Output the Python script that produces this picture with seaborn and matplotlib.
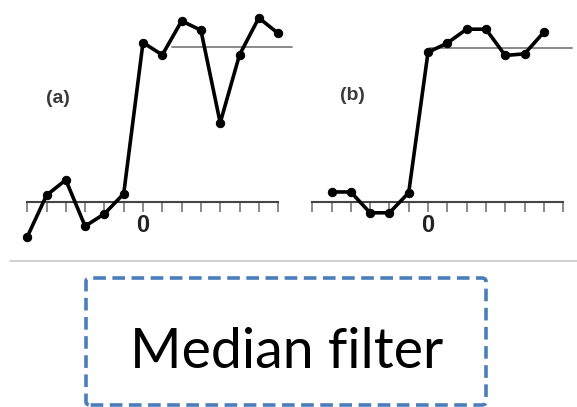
import numpy as np
import matplotlib
matplotlib.use("Agg")
import matplotlib.pyplot as plt
import seaborn as sns
from matplotlib.patches import FancyBboxPatch
from matplotlib.lines import Line2D

# raw signal (a) and median-filtered signal (b)
x_a = [-6, -5, -4, -3, -2, -1, 0, 1, 2, 3, 4, 5, 6, 7]
y_a = [-0.23, 0.04, 0.14, -0.16, -0.08, 0.05, 1.03, 0.95, 1.17, 1.11, 0.51, 0.95, 1.19, 1.09]

x_b = [-5, -4, -3, -2, -1, 0, 1, 2, 3, 4, 5, 6]
y_b = [0.065, 0.065, -0.07, -0.07, 0.06, 0.97, 1.03, 1.12, 1.12, 0.95, 0.96, 1.10]

tick_positions = list(range(-6, 8))
panel_labels = ["(a)", "(b)"]
caption = "Median filter"

W, H = 577, 407
sns.set_style("white")
fig = plt.figure(figsize=(W / 100, H / 100), dpi=100)

PX = 19.3   # pixels per x unit
PY = 154.3  # pixels per y unit


def make_axes(x0_px, y0_px, left_px, right_px, top_px, bottom_px):
    ax = fig.add_axes([left_px / W, 1 - bottom_px / H,
                       (right_px - left_px) / W, (bottom_px - top_px) / H])
    ax.set_xlim((left_px - x0_px) / PX, (right_px - x0_px) / PX)
    ax.set_ylim((y0_px - bottom_px) / PY, (y0_px - top_px) / PY)
    ax.patch.set_alpha(0)
    return ax


panels = [
    dict(x=x_a, y=y_a, x0=143, y0=201.5, left=18, right=298, ref=(1.5, 7.7),
         label_xy=(-4.4, 0.67)),
    dict(x=x_b, y=y_b, x0=428, y0=202, left=300, right=577, ref=(0.1, 7.45),
         label_xy=(-3.9, 0.69)),
]

for p, lab in zip(panels, panel_labels):
    ax = make_axes(p["x0"], p["y0"], p["left"], p["right"], 8, 250)
    for s in ["top", "right", "left"]:
        ax.spines[s].set_visible(False)
    ax.spines["bottom"].set_position(("data", 0))
    ax.spines["bottom"].set_bounds(-6, 7)
    ax.spines["bottom"].set_color("#444444")
    ax.spines["bottom"].set_linewidth(1.5)
    ax.set_xticks(tick_positions)
    ax.set_xticklabels(["0" if t == 0 else "" for t in tick_positions],
                       fontsize=17, fontweight="bold", family="Liberation Sans",
                       color="#222222")
    ax.tick_params(axis="x", direction="out", length=7, width=1.2,
                   color="#777777", pad=2, bottom=True)
    ax.set_yticks([])
    # reference level of the step
    ax.plot(p["ref"], [1, 1], color="#8a8a8a", lw=1.4, zorder=1)
    sns.lineplot(x=p["x"], y=p["y"], ax=ax, color="black", lw=2.6,
                 marker="o", markersize=6, markeredgecolor="black", zorder=3)
    ax.text(*p["label_xy"], lab, fontsize=14, fontweight="bold",
            color="#3a3a3a", ha="center", va="center", family="Liberation Sans")
    ax.set_xlabel("")
    ax.set_ylabel("")

# separator line
fig.add_artist(Line2D([10 / W, 1], [1 - 261 / H, 1 - 261 / H],
                      color="#c8c8c8", lw=1.2))

# dashed caption box
box = FancyBboxPatch((86 / W, 1 - 405 / H), (486 - 86) / W, (405 - 278) / H,
                     boxstyle="round,pad=0,rounding_size=0.008",
                     transform=fig.transFigure, fill=False,
                     edgecolor="#4a7ebb", lw=2.6, linestyle=(0, (3.5, 1.8)))
fig.add_artist(box)
fig.text(287 / W, 1 - 368 / H, caption, fontsize=40, family="Lato",
         ha="center", va="baseline", color="black")

fig.savefig("out.png", dpi=100)
